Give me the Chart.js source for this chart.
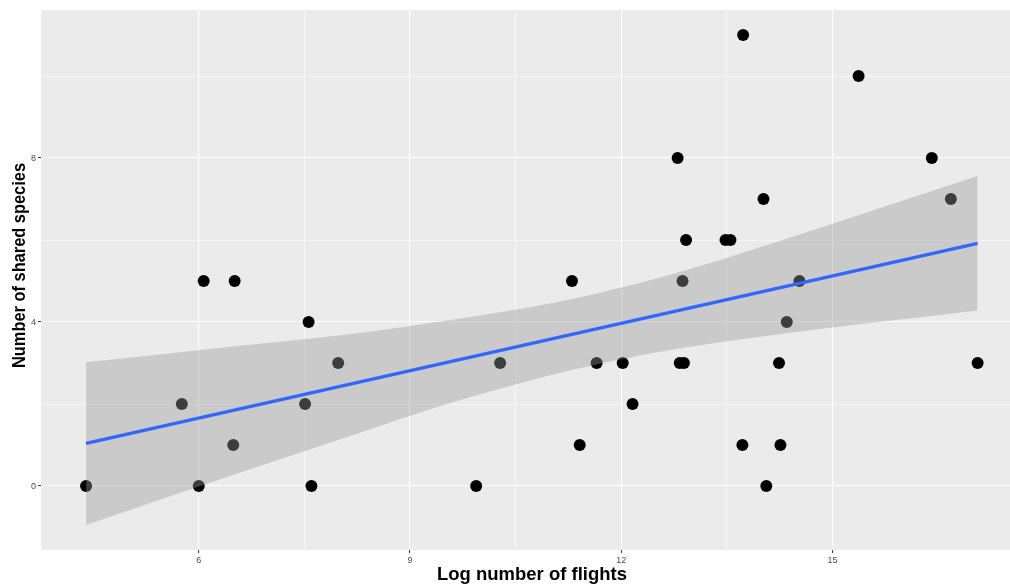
<!DOCTYPE html>
<html><head><meta charset="utf-8">
<script src="https://cdn.jsdelivr.net/npm/chart.js@4.4.0/dist/chart.umd.min.js"></script>
<style>html,body{margin:0;padding:0;background:#fff;overflow:hidden}canvas{display:block}</style>
</head><body>
<canvas id="c" width="1010" height="584"></canvas>
<script>
// ---- data ----
const flightsLog = [4.40, 5.76, 6.00, 6.07, 6.49, 6.51, 7.51, 7.56, 7.60, 7.98, 9.94, 10.28, 11.30, 11.41, 11.65, 12.02, 12.16, 12.80, 12.83, 12.87, 12.89, 12.92, 13.48, 13.55, 13.72, 13.73, 14.02, 14.06, 14.24, 14.26, 14.35, 14.53, 15.37, 16.41, 16.68, 17.06];
const sharedSpecies = [0, 2, 0, 5, 1, 5, 2, 4, 0, 3, 0, 3, 5, 1, 3, 3, 2, 8, 3, 5, 3, 6, 6, 6, 1, 11, 7, 0, 3, 1, 4, 5, 10, 8, 7, 3];
const fitX = [4.40, 17.06];
const fitY = [1.04, 5.92];
const bandX = [4.40, 6.02, 8.29, 9.43, 10.28, 11.13, 12.41, 13.45, 14.54, 17.06];
const bandUpper = [3.02, 3.32, 3.73, 4.01, 4.24, 4.50, 5.02, 5.54, 6.14, 7.56];
const bandLower = [-0.95, 0.00, 1.30, 1.95, 2.37, 2.76, 3.23, 3.52, 3.77, 4.28];
const xMajorTicks = [6, 9, 12, 15];
const xMinorTicks = [7.5, 10.5, 13.5];
const yMajorTicks = [0, 4, 8];
const yMinorTicks = [2, 6, 10];
const xTitle = 'Log number of flights';
const yTitle = 'Number of shared species';

const FONT = '"Liberation Sans", Arial, Helvetica, sans-serif';
const pts = (xs, ys) => xs.map((x, i) => ({x: x, y: ys[i]}));

const panelBg = {
  id: 'panelBg',
  beforeDraw(chart) {
    const {ctx, chartArea: a} = chart;
    ctx.save();
    ctx.fillStyle = '#FFFFFF';
    ctx.fillRect(0, 0, chart.width, chart.height);
    ctx.fillStyle = '#EBEBEB';
    ctx.fillRect(a.left, a.top, a.right - a.left, a.bottom - a.top);
    ctx.restore();
  }
};

const axisTitles = {
  id: 'axisTitles',
  afterDraw(chart) {
    const ctx = chart.ctx;
    ctx.save();
    ctx.fillStyle = '#000000';
    ctx.font = 'bold 18.5px ' + FONT;
    ctx.textBaseline = 'alphabetic';
    ctx.textAlign = 'center';
    let w = ctx.measureText(xTitle).width;
    ctx.save();
    ctx.translate(532, 580);
    ctx.scale(190 / w, 1);
    ctx.fillText(xTitle, 0, 0);
    ctx.restore();
    w = ctx.measureText(yTitle).width;
    ctx.save();
    ctx.translate(25, 265.5);
    ctx.rotate(-Math.PI / 2);
    ctx.scale(205 / w, 1);
    ctx.fillText(yTitle, 0, 0);
    ctx.restore();
    ctx.restore();
  }
};

const isMajor = (list, ctx) => ctx.tick && list.includes(ctx.tick.value);

new Chart(document.getElementById('c'), {
  type: 'scatter',
  data: {
    datasets: [
      {label: 'fit', data: pts(fitX, fitY), showLine: true, borderColor: '#3366FF', borderWidth: 3.4, pointRadius: 0, fill: false},
      {label: 'upper', data: pts(bandX, bandUpper), showLine: true, borderWidth: 0, borderColor: 'rgba(0,0,0,0)', pointRadius: 0, fill: '+1', backgroundColor: 'rgba(153,153,153,0.4)', cubicInterpolationMode: 'monotone'},
      {label: 'lower', data: pts(bandX, bandLower), showLine: true, borderWidth: 0, borderColor: 'rgba(0,0,0,0)', pointRadius: 0, fill: false, cubicInterpolationMode: 'monotone'},
      {label: 'points', data: pts(flightsLog, sharedSpecies), showLine: false, pointRadius: 6, pointBackgroundColor: '#000000', pointBorderWidth: 0, pointBorderColor: 'rgba(0,0,0,0)'}
    ]
  },
  options: {
    responsive: false,
    animation: false,
    devicePixelRatio: 1,
    layout: {autoPadding: false, padding: {top: 10, left: 0, right: 0, bottom: 0}},
    elements: {line: {tension: 0}},
    plugins: {legend: {display: false}, tooltip: {enabled: false}},
    scales: {
      x: {
        type: 'linear', min: 3.76, max: 17.52,
        afterBuildTicks: s => { s.ticks = [...xMajorTicks, ...xMinorTicks].sort((a, b) => a - b).map(v => ({value: v})); },
        afterFit: s => { s.height = 34; },
        ticks: {autoSkip: false, maxRotation: 0, padding: 2, color: '#4D4D4D', font: {family: FONT, size: 9},
          callback: v => xMajorTicks.includes(v) ? String(v) : ''},
        grid: {color: '#FFFFFF', lineWidth: c => isMajor(xMajorTicks, c) ? 1.1 : 0.55,
          tickColor: c => isMajor(xMajorTicks, c) ? '#333333' : 'rgba(0,0,0,0)', tickLength: 3, tickWidth: 1},
        border: {display: false}
      },
      y: {
        type: 'linear', min: -1.56, max: 11.61,
        afterBuildTicks: s => { s.ticks = [...yMajorTicks, ...yMinorTicks].sort((a, b) => a - b).map(v => ({value: v})); },
        afterFit: s => { s.width = 41; },
        ticks: {autoSkip: false, padding: 2, color: '#4D4D4D', font: {family: FONT, size: 9},
          callback: v => yMajorTicks.includes(v) ? String(v) : ''},
        grid: {color: '#FFFFFF', lineWidth: c => isMajor(yMajorTicks, c) ? 1.1 : 0.55,
          tickColor: c => isMajor(yMajorTicks, c) ? '#333333' : 'rgba(0,0,0,0)', tickLength: 3, tickWidth: 1},
        border: {display: false}
      }
    }
  },
  plugins: [panelBg, axisTitles]
});
</script>
</body></html>
